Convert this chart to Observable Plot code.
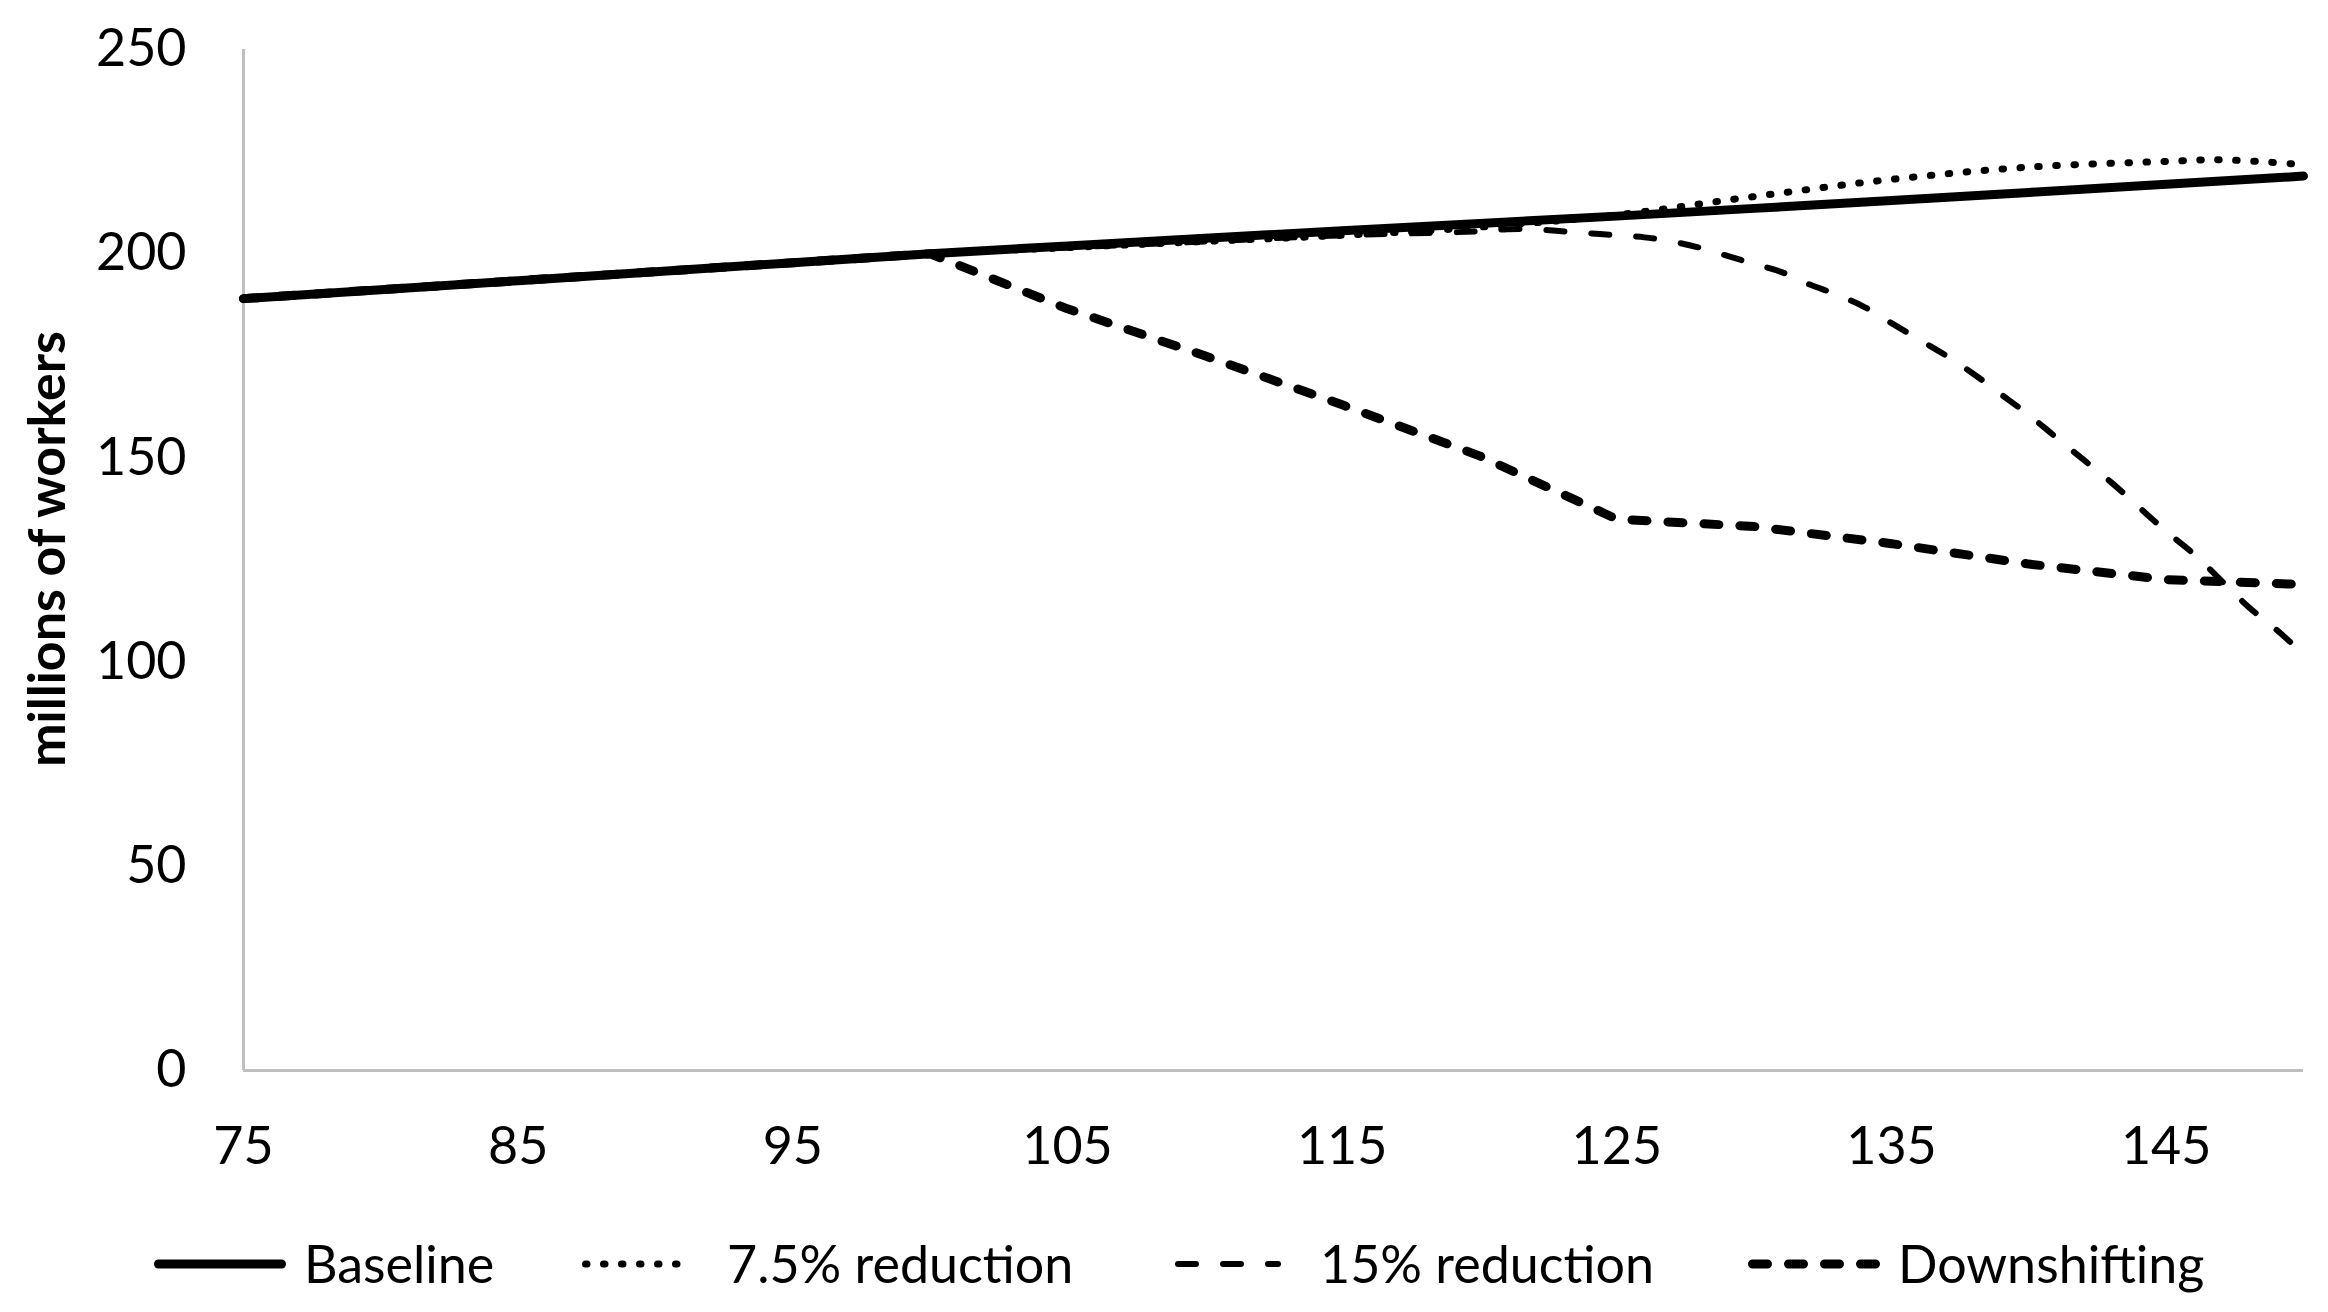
<!DOCTYPE html>
<html>
<head>
<meta charset="utf-8">
<script src="https://cdn.jsdelivr.net/npm/d3@7"></script>
<script src="https://cdn.jsdelivr.net/npm/@observablehq/plot@0.6"></script>
<style>
  html, body { margin: 0; padding: 0; background: #fff; }
  body { width: 2328px; height: 1312px; overflow: hidden; font-family: Lato, "Open Sans", sans-serif; }
  #legend { position: relative; width: 2328px; height: 112px; }
  #legend .sw { position: absolute; top: 64px; transform: translateY(-50%); display: block; }
  #legend .lt { position: absolute; top: 64px; transform: translateY(-52%); font-size: 52px; line-height: 1; color: #000; white-space: nowrap; }
</style>
</head>
<body>
<div id="chart"></div>
<div id="legend"></div>
<script>
// ---- data ----
const seriesNames = ["Baseline", "7.5% reduction", "15% reduction", "Downshifting"];
const xTicks = [75, 85, 95, 105, 115, 125, 135, 145];
const yTicks = [0, 50, 100, 150, 200, 250];

const baseYears = [75, 80, 85, 90, 95, 100, 105, 110, 115, 120, 125, 130, 135, 140, 145, 150];
const baseline  = [189, 191.2, 193.4, 195.6, 197.8, 200, 201.9, 203.8, 205.6, 207.4, 209.2, 211.1, 213, 215, 217, 219];

const r75Years = [75, 80, 85, 90, 95, 100, 105, 110, 115, 120, 125, 130, 135, 140, 145, 147, 150];
const r75      = [189, 191.2, 193.4, 195.6, 197.8, 200, 201.5, 203, 204.5, 206.5, 209.5, 214, 218.2, 221.2, 222.6, 223, 221.8];

const r15Years = [75, 80, 85, 90, 95, 100, 105, 110, 115,
  120, 121, 122, 123, 124, 125, 126, 127, 128, 129, 130, 131, 132, 133, 134, 135,
  136, 137, 138, 139, 140, 141, 142, 143, 144, 145, 146, 147, 148, 149, 150];
const r15      = [189, 191.2, 193.4, 195.6, 197.8, 200, 201.5, 203, 204.5,
  205.5, 206, 206, 205.5, 205, 204.5, 204, 203, 201.5, 199.5, 197.5, 195.5, 192.5, 190, 187, 183,
  179, 175, 170.5, 165.5, 160.5, 155, 149.5, 144, 138, 132, 126.5, 120, 113.5, 108, 102];

const downYears = [75, 80, 85, 90, 95, 100, 105, 110, 115, 120, 125, 130, 135, 140, 145, 150];
const downshift = [189, 191.2, 193.4, 195.6, 197.8, 200, 186.5, 175, 163, 150.5, 135, 133.2, 129, 124, 120.2, 119];

const yLabel = "millions of workers";

// ---- tables ----
const toRows = (xs, ys) => xs.map((x, i) => ({x, y: ys[i]}));
const baseRows = toRows(baseYears, baseline);
const r75Rows = toRows(r75Years, r75);
const r15Rows = toRows(r15Years, r15);
const downRows = toRows(downYears, downshift);

const styles = [
  {strokeWidth: 9, strokeDasharray: null, strokeLinecap: "round"},
  {strokeWidth: 7, strokeDasharray: "1.5 16.5", strokeLinecap: "round"},
  {strokeWidth: 6, strokeDasharray: "18 27", strokeLinecap: "round"},
  {strokeWidth: 9, strokeDasharray: "15 21", strokeLinecap: "round"}
];

const plot = Plot.plot({
  width: 2328,
  height: 1200,
  marginLeft: 243,
  marginRight: 25,
  marginTop: 49,
  marginBottom: 130,
  style: {fontFamily: "Lato, 'Open Sans', sans-serif", fontSize: "52px", color: "#000", background: "#fff"},
  x: {domain: [75, 150]},
  y: {domain: [0, 250]},
  marks: [
    Plot.ruleX([75], {stroke: "#bfbfbf", strokeWidth: 3, y1: 0, y2: 250}),
    Plot.ruleY([0], {stroke: "#bfbfbf", strokeWidth: 3, x1: 75, x2: 150}),
    Plot.axisX({ticks: xTicks, tickSize: 0, tickPadding: 57, label: null, fontSize: 52, tickFormat: d => String(d)}),
    Plot.axisY({ticks: yTicks, tickSize: 0, tickPadding: 57, label: null, fontSize: 52, tickFormat: d => String(d)}),
    Plot.line(baseRows, {x: "x", y: "y", stroke: "#000", ...styles[0], strokeLinejoin: "round"}),
    Plot.line(r75Rows, {x: "x", y: "y", stroke: "#000", ...styles[1], curve: "catmull-rom"}),
    Plot.line(r15Rows, {x: "x", y: "y", stroke: "#000", ...styles[2], curve: "catmull-rom"}),
    Plot.line(downRows, {x: "x", y: "y", stroke: "#000", ...styles[3], strokeLinejoin: "round"}),
    Plot.text([yLabel], {text: d => d, frameAnchor: "left", textAnchor: "middle", dx: -195, dy: -11, rotate: -90, fontWeight: "bold", fontSize: 52, fill: "#000"})
  ]
});
document.getElementById("chart").appendChild(plot);

// ---- legend ----
const legend = document.getElementById("legend");
const swatchX = [154, 582, 1175, 1748];
const swatchW = [132, 114, 106, 132];
const textX = [304, 727, 1320, 1898];
seriesNames.forEach((name, i) => {
  const s = styles[i];
  const w = swatchW[i];
  const ns = "http://www.w3.org/2000/svg";
  const svg = document.createElementNS(ns, "svg");
  svg.setAttribute("class", "sw");
  svg.setAttribute("width", w);
  svg.setAttribute("height", 20);
  svg.style.left = swatchX[i] + "px";
  const line = document.createElementNS(ns, "line");
  const pad = s.strokeWidth / 2;
  line.setAttribute("x1", pad);
  line.setAttribute("x2", w - pad);
  line.setAttribute("y1", 10);
  line.setAttribute("y2", 10);
  line.setAttribute("stroke", "#000");
  line.setAttribute("stroke-width", s.strokeWidth);
  line.setAttribute("stroke-linecap", s.strokeLinecap);
  if (s.strokeDasharray) line.setAttribute("stroke-dasharray", s.strokeDasharray);
  svg.appendChild(line);
  legend.appendChild(svg);
  const t = document.createElement("div");
  t.className = "lt";
  t.style.left = textX[i] + "px";
  t.textContent = name;
  legend.appendChild(t);
});
</script>
</body>
</html>
